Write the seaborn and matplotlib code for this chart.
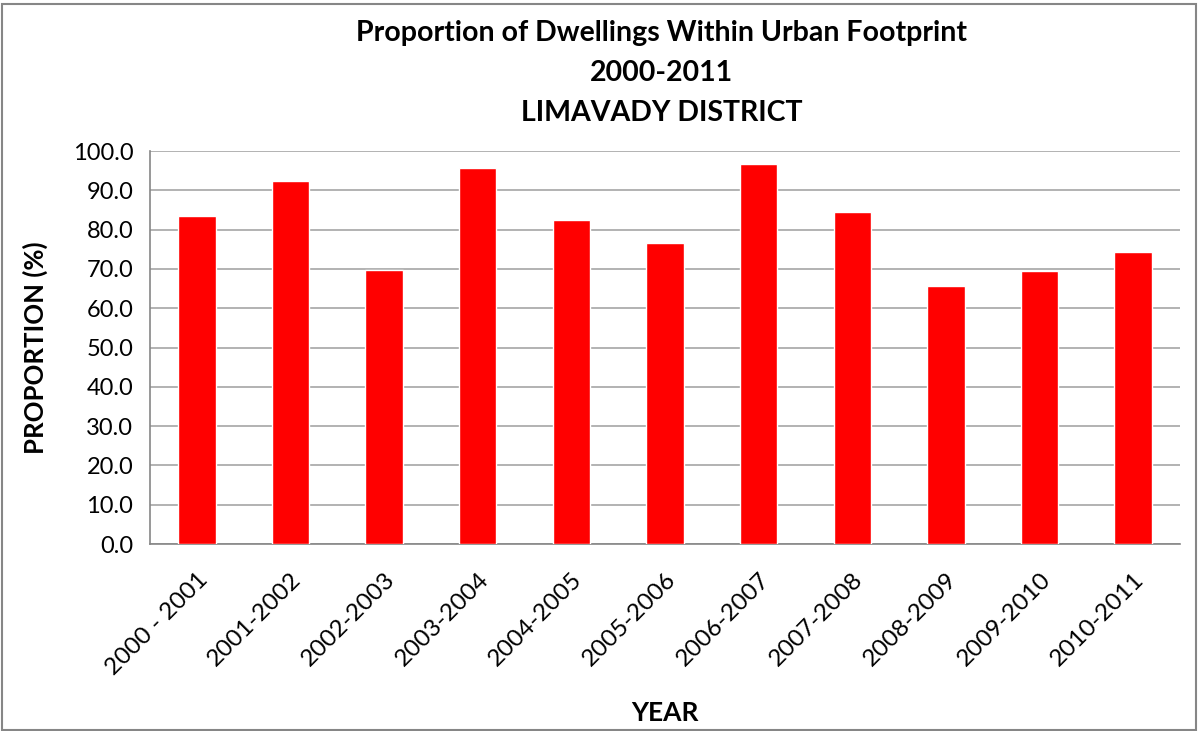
import matplotlib
matplotlib.use("Agg")
import matplotlib.pyplot as plt
import seaborn as sns
import pandas as pd
import numpy as np
from matplotlib.patches import Rectangle

# datos
years = ["2000 - 2001", "2001-2002", "2002-2003", "2003-2004", "2004-2005", "2005-2006",
         "2006-2007", "2007-2008", "2008-2009", "2009-2010", "2010-2011"]
proportion = [83.5, 92.4, 69.7, 95.7, 82.4, 76.6, 96.7, 84.5, 65.6, 69.5, 74.3]

df = pd.DataFrame({"YEAR": years, "PROPORTION": proportion})

sns.set_style("white")
plt.rcParams["font.family"] = ["Lato", "DejaVu Sans"]
plt.rcParams["text.color"] = "black"
plt.rcParams["axes.labelcolor"] = "black"
plt.rcParams["xtick.labelcolor"] = "black"
plt.rcParams["ytick.labelcolor"] = "black"

fig = plt.figure(figsize=(11.98, 7.31), dpi=100)
ax = fig.add_axes([0.1252, 0.2558, 0.8598, 0.5376])

sns.barplot(data=df, x="YEAR", y="PROPORTION", color="#ff0000", saturation=1,
            width=0.4, ax=ax, zorder=3)

ax.set_ylim(0, 100)
ax.set_xlim(-0.5, len(years) - 0.5)
ax.set_yticks(np.arange(0, 101, 10))
ax.set_yticklabels([f"{v:.1f}" for v in np.arange(0, 101, 10)], fontsize=17)
ax.yaxis.grid(True, color="#a6a6a6", linewidth=1.2, zorder=0)
ax.set_axisbelow(True)

ax.set_xticks(range(len(years)))
ax.set_xticklabels(years, rotation=45, ha="right", rotation_mode="anchor", fontsize=17.5)
ax.set_xticks(np.arange(-0.5, len(years)), minor=True)
ax.tick_params(axis="x", which="major", length=0, pad=18)
ax.tick_params(axis="x", which="minor", length=6, color="#868686", width=1.2, direction="out")
ax.tick_params(axis="y", length=6, color="#868686", width=1.2, direction="out", pad=6)

for s in ["top", "right"]:
    ax.spines[s].set_visible(False)
for s in ["left", "bottom"]:
    ax.spines[s].set_color("#868686")
    ax.spines[s].set_linewidth(1.2)

ax.set_xlabel("YEAR", fontsize=19, fontweight="bold", labelpad=16)
ax.set_ylabel("PROPORTION (%)", fontsize=18.5, fontweight="bold", labelpad=18)

fig.text(0.552, 0.955, "Proportion of Dwellings Within Urban Footprint", ha="center", va="center",
         fontsize=20.5, fontweight="bold")
fig.text(0.552, 0.900, "2000-2011", ha="center", va="center", fontsize=20.5, fontweight="bold")
fig.text(0.552, 0.845, "LIMAVADY DISTRICT", ha="center", va="center", fontsize=20.5, fontweight="bold")

fig.patches.append(Rectangle((0.002, 0.002), 0.996, 0.993, transform=fig.transFigure,
                             fill=False, edgecolor="#868686", linewidth=1.5))

fig.savefig("out.png", dpi=100)
